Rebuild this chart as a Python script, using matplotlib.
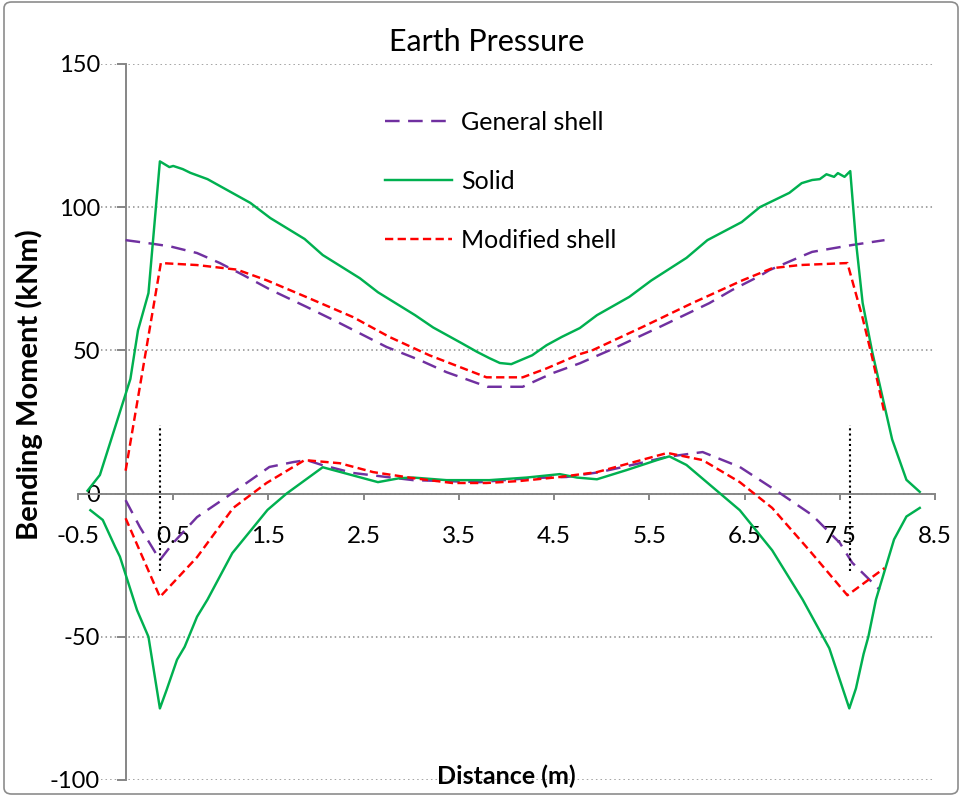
import matplotlib
matplotlib.use('Agg')
import matplotlib.pyplot as plt
from matplotlib.patches import FancyBboxPatch

plt.rcParams['font.family'] = ['Lato', 'DejaVu Sans']

# General shell (purple dashed) - upper and lower branches
gen_top_x = [0.0, 0.29, 0.47, 0.75, 0.99, 1.23, 1.52, 1.90, 2.25, 2.74, 3.09, 3.37, 3.69, 3.80,
             4.17, 4.48, 4.77, 5.08, 5.61, 6.13, 6.37, 6.66, 6.76, 7.08, 7.21, 7.63, 7.97]
gen_top_y = [88.5, 87.2, 86.3, 84.0, 80.5, 76.4, 71.2, 65.2, 59.5, 51.2, 46.6, 42.4, 38.6, 37.3,
             37.3, 42.0, 45.5, 50.0, 58.2, 66.5, 71.1, 76.0, 78.0, 82.6, 84.4, 86.8, 88.5]
gen_bot_x = [0.0, 0.15, 0.36, 0.50, 0.75, 1.06, 1.51, 1.76, 1.90, 2.07, 2.39, 2.74, 3.02, 3.72,
             4.24, 4.63, 4.98, 5.40, 5.68, 6.06, 6.45, 6.87, 7.21, 7.50, 7.63, 7.92]
gen_bot_y = [-2.3, -11.7, -23.2, -17.2, -8.2, -1.2, 9.3, 11.0, 11.7, 9.9, 7.2, 5.8, 4.7, 4.0,
             5.4, 5.8, 7.5, 10.6, 12.8, 14.5, 9.3, 0.2, -7.5, -17.2, -24.1, -33.6]

# Solid (green)
sol_top_x = [-0.40, -0.27, -0.16, 0.05, 0.13, 0.24, 0.36, 0.46, 0.50, 0.60, 0.68, 0.86, 0.99,
             1.31, 1.52, 1.88, 2.07, 2.46, 2.65, 3.04, 3.23, 3.53, 3.69, 3.82, 3.93, 4.05, 4.27,
             4.42, 4.58, 4.77, 4.95, 5.29, 5.52, 5.89, 6.11, 6.47, 6.66, 6.97, 7.10, 7.21, 7.29,
             7.36, 7.44, 7.48, 7.55, 7.61, 7.67, 7.74, 7.84, 8.05, 8.20, 8.34]
sol_top_y = [1.0, 6.5, 18.0, 40.0, 57.0, 70.0, 116.0, 114.0, 114.4, 113.3, 112.0, 109.8, 107.4,
             101.5, 96.2, 88.9, 83.3, 75.2, 70.3, 62.3, 58.0, 52.5, 49.5, 47.3, 45.6, 45.2, 48.3,
             51.8, 54.7, 57.8, 62.3, 68.7, 74.4, 82.3, 88.5, 94.8, 100.0, 105.0, 108.4, 109.5, 109.8,
             111.5, 110.6, 111.9, 110.6, 112.6, 88.0, 66.6, 49.6, 18.9, 4.8, 0.6]
sol_bot_x = [-0.37, -0.24, -0.11, -0.06, 0.12, 0.24, 0.36, 0.43, 0.54, 0.62, 0.75, 0.86, 1.12,
             1.49, 1.69, 2.07, 2.65, 2.88, 3.02, 3.37, 3.82, 4.21, 4.56, 4.74, 4.95, 5.26, 5.58,
             5.71, 5.89, 6.45, 6.79, 7.11, 7.39, 7.60, 7.67, 7.75, 7.80, 7.88, 8.07, 8.20, 8.34]
sol_bot_y = [-5.8, -9.2, -18.6, -22.0, -40.7, -50.0, -75.0, -68.6, -58.0, -53.5, -43.0, -37.0, -20.8,
             -5.7, 0.0, 9.2, 4.0, 5.4, 5.6, 4.7, 4.7, 5.6, 6.8, 5.6, 5.0, 8.2, 11.7,
             13.0, 10.0, -5.8, -19.8, -37.0, -54.0, -75.0, -68.0, -56.0, -50.0, -37.0, -16.0, -8.0, -5.0]

# Modified shell (red dashed)
mod_top_x = [0.0, 0.37, 0.75, 1.17, 1.48, 1.90, 2.39, 2.77, 3.19, 3.79, 4.17, 4.42, 4.77, 4.90,
             5.43, 5.95, 6.48, 6.79, 7.08, 7.58, 7.74, 7.84, 7.97]
mod_top_y = [8.0, 80.5, 79.8, 78.2, 74.5, 68.6, 61.6, 54.7, 48.3, 40.6, 40.6, 43.7, 48.7, 50.0,
             58.2, 66.5, 74.5, 78.7, 79.8, 80.5, 61.3, 47.6, 28.0]
mod_bot_x = [0.0, 0.36, 0.75, 1.13, 1.48, 1.88, 2.25, 2.60, 3.02, 3.43, 3.79, 4.14, 4.56, 4.95,
             5.69, 6.06, 6.45, 6.79, 7.18, 7.58, 7.97]
mod_bot_y = [-8.6, -36.1, -22.2, -5.0, 3.7, 11.7, 10.6, 7.5, 5.4, 3.7, 3.7, 4.4, 5.8, 7.5,
             14.2, 11.7, 4.0, -5.0, -19.8, -35.5, -26.0]

# vertical dotted markers
marker_x = [0.36, 7.61]
marker_y = [-27, 24]

x_ticks = [-0.5, 0.5, 1.5, 2.5, 3.5, 4.5, 5.5, 6.5, 7.5, 8.5]
y_ticks = [-100, -50, 0, 50, 100, 150]

fig = plt.figure(figsize=(9.62, 7.96), dpi=100)
ax = fig.add_axes([78 / 962, 16 / 796, 857 / 962, 716 / 796])

purple = '#7030A0'
green = '#00B050'
red = '#FF0000'
lw = 1.75

ax.plot(gen_top_x, gen_top_y, color=purple, lw=lw, dashes=(6, 3.5), label='General shell')
ax.plot(gen_bot_x, gen_bot_y, color=purple, lw=lw, dashes=(6, 3.5))
ax.plot(sol_top_x, sol_top_y, color=green, lw=lw, label='Solid')
ax.plot(sol_bot_x, sol_bot_y, color=green, lw=lw)
ax.plot(mod_top_x, mod_top_y, color=red, lw=lw, dashes=(3.4, 1.8), label='Modified shell')
ax.plot(mod_bot_x, mod_bot_y, color=red, lw=lw, dashes=(3.4, 1.8))
for mx in marker_x:
    ax.plot([mx, mx], marker_y, color='black', lw=1.5, linestyle=(0, (1, 1.5)))

ax.set_xlim(-0.5, 8.5)
ax.set_ylim(-100, 150)
ax.set_xticks(x_ticks)
ax.set_xticklabels([str(t) for t in x_ticks])
ax.set_yticks(y_ticks)
ax.set_yticklabels([str(t) for t in y_ticks])

axis_col = '#868686'
for s in ['top', 'right']:
    ax.spines[s].set_visible(False)
ax.spines['left'].set_position(('data', 0))
ax.spines['bottom'].set_position(('data', 0))
for s in ['left', 'bottom']:
    ax.spines[s].set_color(axis_col)
    ax.spines[s].set_linewidth(1.4)
    ax.spines[s].set_zorder(1)

ax.tick_params(axis='y', direction='out', length=6.5, width=1.4, color=axis_col,
               pad=12, labelsize=17)
ax.tick_params(axis='x', direction='out', length=4.5, width=1.4, color=axis_col,
               pad=19, labelsize=17.5)
for lab in ax.get_yticklabels():
    lab.set_bbox(dict(facecolor='white', edgecolor='none', pad=1))

ax.yaxis.grid(True, color='#8c8c8c', linestyle=(0, (1, 2)), linewidth=1.1)
ax.set_axisbelow(True)

fig.text(487 / 962, 1 - 42 / 796, 'Earth Pressure', ha='center', va='center', fontsize=22)
fig.text(29 / 962, 1 - 385 / 796, 'Bending Moment (kNm)', ha='center', va='center',
         rotation=90, fontsize=21, fontweight='bold')
fig.text(506 / 962, 1 - 776 / 796, 'Distance (m)', ha='center', va='center',
         fontsize=18, fontweight='bold')

ax.legend(loc='upper left', bbox_to_anchor=(385 / 962, 1 - 111 / 796),
          bbox_transform=fig.transFigure, frameon=False, borderpad=0, borderaxespad=0,
          handlelength=2.7, handletextpad=0.35, labelspacing=1.43, fontsize=18)

fig.patches.append(FancyBboxPatch((4 / 962, 2 / 796), 954 / 962, 792 / 796,
                                  boxstyle='round,pad=0,rounding_size=0.008',
                                  transform=fig.transFigure, facecolor='none',
                                  edgecolor='#8c8c8c', linewidth=1.2))

fig.savefig('out.png', dpi=100)
